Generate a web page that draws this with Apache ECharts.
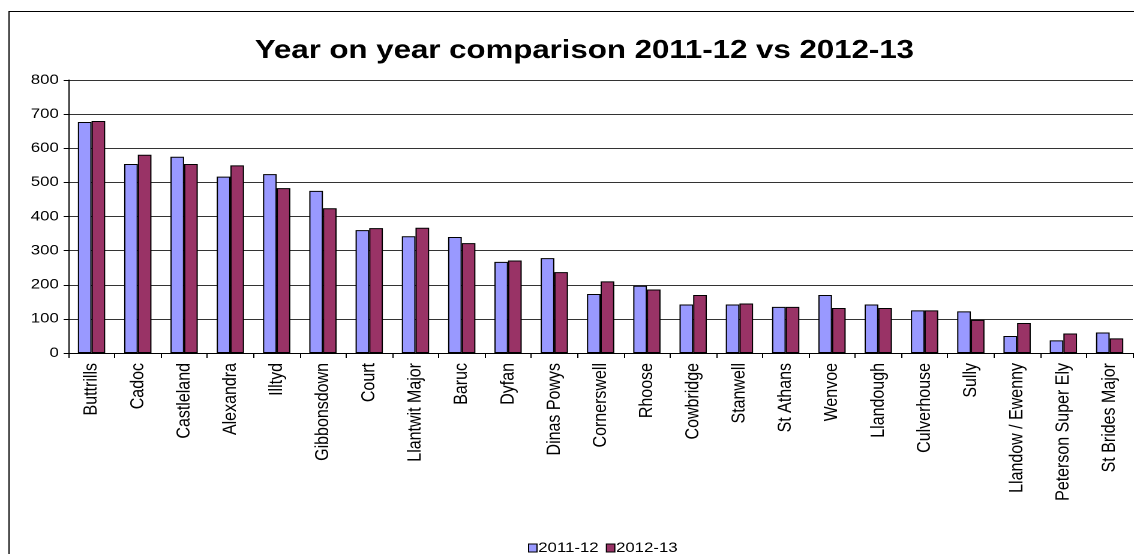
<!DOCTYPE html>
<html>
<head>
<meta charset="utf-8">
<script src="https://cdn.jsdelivr.net/npm/echarts@6/dist/echarts.min.js"></script>
<style>
  html, body { margin: 0; padding: 0; background: #fff; overflow: hidden; }
  /* The chart is laid out on a narrower canvas and widened, which gives the
     slightly stretched lettering of the original workbook export. */
  #wrap { width: 1134px; height: 554px; overflow: hidden; }
  #chart { width: 945px; height: 554px; transform: scaleX(1.2); transform-origin: 0 0; }
</style>
</head>
<body>
<div id="wrap"><div id="chart"></div></div>
<script>
// Schools / areas compared across the two years
const categories = [
  'Buttrills', 'Cadoc', 'Castleland', 'Alexandra', 'Illtyd', 'Gibbonsdown',
  'Court', 'Llantwit Major', 'Baruc', 'Dyfan', 'Dinas Powys', 'Cornerswell',
  'Rhoose', 'Cowbridge', 'Stanwell', 'St Athans', 'Wenvoe', 'Llandough',
  'Culverhouse', 'Sully', 'Llandow / Ewenny', 'Peterson Super Ely', 'St Brides Major'
];
const values2011 = [677, 554, 575, 517, 524, 475, 360, 342, 340, 267, 278, 173,
  197, 142, 142, 135, 170, 142, 125, 122, 50, 37, 60];
const values2012 = [680, 581, 554, 550, 483, 424, 366, 367, 322, 271, 237, 210,
  186, 170, 145, 135, 132, 132, 125, 97, 88, 57, 43];
const yTicks = { min: 0, max: 800, interval: 100 };

const chart = echarts.init(document.getElementById('chart'), null,
  { renderer: 'canvas', devicePixelRatio: 2 });
const font = 'Liberation Sans, Arial, sans-serif';

chart.setOption({
  animation: false,
  backgroundColor: '#ffffff',
  title: {
    text: 'Year on year comparison 2011-12 vs 2012-13',
    left: 482, top: 33, textAlign: 'center',
    textStyle: { fontFamily: font, fontSize: 26, fontWeight: 'bold', color: '#000' }
  },
  graphic: [{
    type: 'rect',
    shape: { x: 7.5, y: 11.5, width: 1000, height: 600 },
    style: { fill: 'none', stroke: '#000', lineWidth: 1 },
    silent: true, z: -1
  }],
  legend: {
    left: 435, top: 536,
    itemWidth: 7, itemHeight: 8, itemGap: 6,
    icon: 'rect',
    itemStyle: { borderColor: '#000', borderWidth: 1 },
    textStyle: { fontFamily: font, fontSize: 14, color: '#000', padding: [0, 0, 0, -4] },
    data: ['2011-12', '2012-13']
  },
  grid: { left: 57, top: 80, right: 1, bottom: 201 },
  xAxis: {
    type: 'category',
    data: categories,
    axisLine: { lineStyle: { color: '#000', width: 1 } },
    axisTick: { show: true, alignWithLabel: false, length: 5, lineStyle: { color: '#000' } },
    axisLabel: {
      interval: 0, rotate: 90, margin: 10,
      fontFamily: font, fontSize: 16, color: '#000'
    }
  },
  yAxis: {
    type: 'value',
    min: yTicks.min, max: yTicks.max, interval: yTicks.interval,
    axisLine: { show: true, lineStyle: { color: '#000', width: 1 } },
    axisTick: { show: true, length: 4, lineStyle: { color: '#000' } },
    axisLabel: { fontFamily: font, fontSize: 14, color: '#000', margin: 8 },
    splitLine: { show: true, lineStyle: { color: '#333', width: 1 } }
  },
  series: [
    {
      name: '2011-12', type: 'bar', data: values2011,
      barGap: '0%', barCategoryGap: '41%',
      itemStyle: { color: '#9999ff', borderColor: '#000', borderWidth: 1 }
    },
    {
      name: '2012-13', type: 'bar', data: values2012,
      itemStyle: { color: '#993366', borderColor: '#000', borderWidth: 1 }
    }
  ]
});
</script>
</body>
</html>
